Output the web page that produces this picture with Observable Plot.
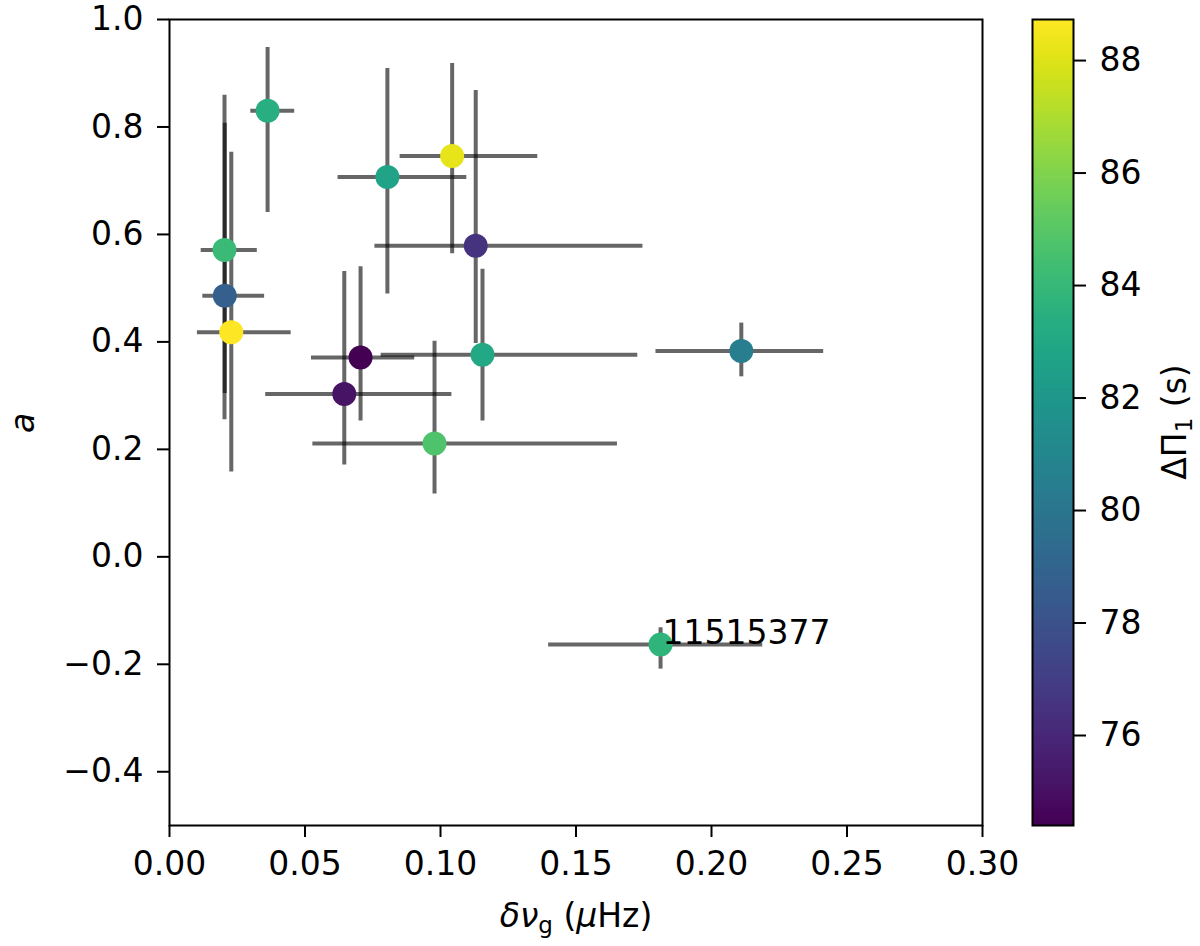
<!DOCTYPE html>
<html>
<head>
<meta charset="utf-8">
<script src="https://cdn.jsdelivr.net/npm/d3@7"></script>
<script src="https://cdn.jsdelivr.net/npm/@observablehq/plot@0.6"></script>
<style>
  body { margin: 0; background: white; }
  #wrap { position: relative; width: 1200px; height: 946px; font-family: "DejaVu Sans"; }
  #chart, #cbar { position: absolute; top: 0; }
  #chart { left: 0; }
  #cbar { left: 1032px; }
  #wrap svg { overflow: visible; }
  #wrap g[aria-label*="axis"] line, #wrap g[aria-label*="axis"] path { stroke-width: 2px; }
</style>
</head>
<body>
<div id="wrap"><div id="chart"></div><div id="cbar"></div></div>
<script>
// valores
const deltaNu   = [0.0362, 0.1043, 0.0804, 0.1130, 0.0203, 0.0204, 0.0228, 0.0705, 0.0645, 0.1155, 0.0978, 0.2110, 0.1812]
const deltaNuLo = [0.0300, 0.0851, 0.0622, 0.0758, 0.0117, 0.0123, 0.0103, 0.0524, 0.0355, 0.0781, 0.0529, 0.1795, 0.1399]
const deltaNuHi = [0.0462, 0.1359, 0.1097, 0.1747, 0.0324, 0.0351, 0.0449, 0.0905, 0.1042, 0.1728, 0.1653, 0.2414, 0.2189]
const aVal = [0.830, 0.746, 0.707, 0.579, 0.571, 0.486, 0.418, 0.371, 0.303, 0.376, 0.211, 0.383, -0.163]
const aLo  = [0.641, 0.564, 0.489, 0.397, 0.255, 0.304, 0.158, 0.253, 0.171, 0.253, 0.117, 0.335, -0.209]
const aHi  = [0.948, 0.918, 0.909, 0.868, 0.859, 0.807, 0.753, 0.540, 0.531, 0.535, 0.401, 0.435, -0.132]
const dPi1 = [83.4, 88.2, 82.7, 76.5, 84.1, 78.7, 88.7, 74.4, 75.1, 83.0, 84.7, 80.4, 83.7]
const annotated = [{i: 12, text: "11515377"}]

const xTicks = [0, 0.05, 0.10, 0.15, 0.20, 0.25, 0.30]
const yTicks = [-0.4, -0.2, 0.0, 0.2, 0.4, 0.6, 0.8, 1.0]
const cTicks = [76, 78, 80, 82, 84, 86, 88]
const cDomain = [74.4, 88.73]

const data = deltaNu.map((x, i) => ({
  x, xlo: deltaNuLo[i], xhi: deltaNuHi[i],
  y: aVal[i], ylo: aLo[i], yhi: aHi[i], c: dPi1[i]
}))
const notes = annotated.map(d => ({x: deltaNu[d.i], y: aVal[d.i], text: d.text}))

const font = {fontFamily: "DejaVu Sans", fontSize: "33px", background: "white", color: "black", overflow: "visible"}

let chart = Plot.plot({
  width: 1030, height: 946,
  marginLeft: 169, marginTop: 19, marginRight: 48, marginBottom: 121,
  style: font,
  x: {domain: [0, 0.30], ticks: xTicks, tickFormat: d3.format(".2f"), tickSize: 12, tickPadding: 14, label: null},
  y: {domain: [-0.5, 1.0], ticks: yTicks, tickFormat: d3.format(".1f"), tickSize: 12, tickPadding: 14, label: null},
  color: {type: "linear", scheme: "viridis", domain: cDomain},
  marks: [
    Plot.ruleY(data, {y: "y", x1: "xlo", x2: "xhi", stroke: "black", strokeOpacity: 0.6, strokeWidth: 4}),
    Plot.ruleX(data, {x: "x", y1: "ylo", y2: "yhi", stroke: "black", strokeOpacity: 0.6, strokeWidth: 4}),
    Plot.dot(data, {x: "x", y: "y", r: 12, fill: "c", stroke: null}),
    Plot.text(notes, {x: "x", y: "y", text: "text", textAnchor: "start", lineAnchor: "bottom", dx: 2, fontSize: 33, fill: "black"}),
    Plot.frame({stroke: "black", strokeWidth: 2})
  ]
})
d3.select('#chart').append(() => chart)

// etiquetas de ejes con subíndices
const svg = d3.select(chart)
svg.append("text").attr("transform", "translate(34,423) rotate(-90)")
  .attr("text-anchor", "middle").attr("font-size", 33).attr("font-style", "italic").attr("fill", "black").text("a")
const xl = svg.append("text").attr("x", 576).attr("y", 927).attr("text-anchor", "middle").attr("font-size", 33).attr("fill", "black")
xl.append("tspan").attr("font-style", "italic").text("δν")
xl.append("tspan").attr("font-size", 23).attr("dy", 6).text("g")
xl.append("tspan").attr("dy", -6).text(" (")
xl.append("tspan").attr("font-style", "italic").text("μ")
xl.append("tspan").text("Hz)")

// barra de color
const slices = d3.range(300).map(i => cDomain[0] + (cDomain[1] - cDomain[0]) * i / 300)
const step = (cDomain[1] - cDomain[0]) / 300
let cbar = Plot.plot({
  width: 168, height: 946,
  marginLeft: 0, marginRight: 127, marginTop: 19, marginBottom: 121,
  style: font,
  x: {domain: [0, 1], axis: null},
  y: {domain: cDomain, ticks: cTicks, axis: "right", tickSize: 12, tickPadding: 14, tickFormat: d3.format("d"), label: null},
  color: {type: "linear", scheme: "viridis", domain: cDomain},
  marks: [
    Plot.rect(slices, {x1: 0, x2: 1, y1: d => d, y2: d => Math.min(d + step * 1.5, cDomain[1]), fill: d => d + step / 2}),
    Plot.frame({stroke: "black", strokeWidth: 2})
  ]
})
d3.select('#cbar').append(() => cbar)
const cl = d3.select(cbar).append("text").attr("transform", "translate(154,422) rotate(-90)")
  .attr("text-anchor", "middle").attr("font-size", 33).attr("fill", "black")
cl.append("tspan").text("ΔΠ")
cl.append("tspan").attr("font-size", 23).attr("dy", 6).text("1")
cl.append("tspan").attr("dy", -6).text(" (s)")
</script>
</body>
</html>
